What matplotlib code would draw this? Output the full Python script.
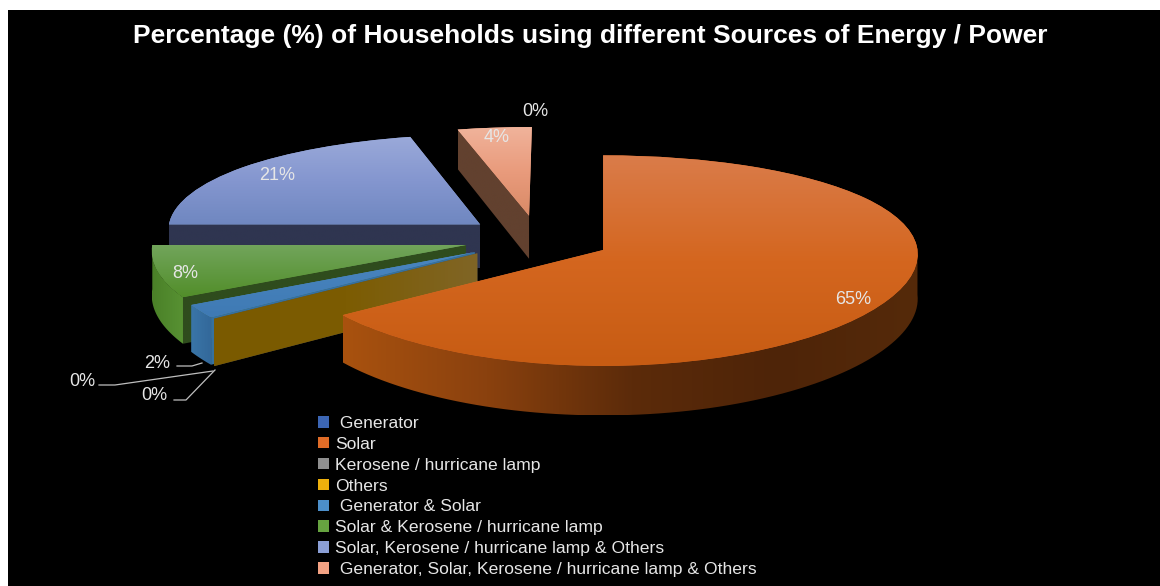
import numpy as np
import matplotlib
matplotlib.use('Agg')
import matplotlib.pyplot as plt
from matplotlib.colors import LinearSegmentedColormap
from matplotlib.patches import Polygon
from matplotlib.transforms import Transform

categories = [' Generator', 'Solar', 'Kerosene / hurricane lamp', 'Others', ' Generator & Solar',
              'Solar & Kerosene / hurricane lamp', 'Solar, Kerosene / hurricane lamp & Others',
              ' Generator, Solar, Kerosene / hurricane lamp & Others']
percent = [0, 65, 0, 0, 2, 8, 21, 4]
legend_colors = ['#3c66b4', '#e06c27', '#8f8f8f', '#eeb00c', '#4c8fca', '#66a340', '#8b9fd6', '#f3a283']

# shading: top face stops (far to near), radial face stops, arc face stops (left to right)
top_stops = [['#3c66b4'] * 2, ['#da7c4a', '#d4661f', '#c75c13'], ['#8f8f8f'] * 2, ['#eeb00c'] * 2,
             ['#4a86c0', '#3f7ab4'], ['#72a55c', '#528e2a'], ['#9aa9d9', '#8496cf', '#6f87c0'],
             ['#f0b39b', '#e99b7c', '#d98a66']]
side_stops = [['#1e3360'] * 2, ['#5a2c0c'] * 2, ['#4c4c4c'] * 2, ['#7a5a00', '#7c5c02', '#806526'],
              ['#36719f'] * 2, ['#2f4c1d'] * 2, ['#2f3550'] * 2, ['#62412f'] * 2]
arc_stops = [['#1e3360'] * 2, ['#a9520f', '#8a410e', '#5c2b0a', '#4e2408', '#552a0a'], ['#4c4c4c'] * 2,
             ['#7a5a00'] * 2, ['#3a76a8', '#33689a'], ['#4a8028', '#589233'], ['#2f3550'] * 2, ['#62412f'] * 2]
draw_order = [7, 6, 5, 4, 2, 3, 0, 1]

# label text position per slice, in pixels
label_pos = [(535, 112), (853, 300), (82, 381), (154, 396), (157, 363), (185, 273), (277, 175), (497, 137)]
leaders = [([177, 192, 202], [366, 366, 363]),
           ([99, 115, 213], [385, 385, 371]),
           ([174, 186, 215], [400, 400, 370])]

CY, A, B, K, KX, DEPTH = 239, 313, 102, 0.1, 0.04, 44
CX, X_SHIFT = 603, 0.209
EXPLODE = 0.235


class Tilt(Transform):
    input_dims = output_dims = 2

    def __init__(self, z=0):
        super().__init__()
        self.z = z

    def transform_non_affine(self, xy):
        xy = np.asarray(xy, dtype=float)
        s = 1 / (1 + K * xy[:, 1])
        sx = 1 / (1 + KX * xy[:, 1])
        return np.column_stack([CX + A * (xy[:, 0] - X_SHIFT) * sx, CY - B * xy[:, 1] * s + DEPTH * self.z * s])


def fill_grad(outline, stops, clip, z, horizontal=False):
    # gradient image cut out by the shape
    x0, y0 = outline.min(axis=0)
    x1, y1 = outline.max(axis=0)
    g = np.linspace(0, 1, 256)
    g = g.reshape(1, -1) if horizontal else g.reshape(-1, 1)
    cmap = LinearSegmentedColormap.from_list('s', stops)
    im = ax.imshow(g, extent=(x0, x1, y1, y0), cmap=cmap, vmin=0, vmax=1, aspect='auto',
                   interpolation='bilinear', zorder=z)
    im.set_clip_path(clip)


def rim(c, t):
    return np.column_stack([c[0] + np.cos(t), c[1] + np.sin(t)])


def side_face(edge, stops, z):
    pts = np.vstack([flat.transform(edge), low.transform(edge)[::-1]])
    face = Polygon(pts, closed=True, transform=ax.transData, fc='none', ec='none')
    ax.add_patch(face)
    fill_grad(pts, stops, face, z, horizontal=True)


plt.rcParams['font.family'] = ['Liberation Sans', 'DejaVu Sans']
fig = plt.figure(figsize=(11.6, 5.86), dpi=100, facecolor='white')
ax = fig.add_axes([8 / 1160, 0, 1152 / 1160, 576 / 586], facecolor='black')

wedges, _ = ax.pie(percent, startangle=90, counterclock=False, explode=[EXPLODE] * len(percent),
                   colors=legend_colors, frame=True, wedgeprops={'linewidth': 0})
ax.set_aspect('auto')

flat = Tilt(0)
low = Tilt(1)
z = 2
for i in draw_order:
    w = wedges[i]
    t1 = w.theta1 % 360
    t2 = t1 + (w.theta2 - w.theta1)
    c = np.array(w.center)

    # radial face at the end that looks toward the viewer
    if np.sin(np.radians(t2 + 90)) < -0.01:
        edge = np.vstack([c, rim(c, np.radians([t2]))])
        side_face(edge, side_stops[i], z)
        z += 1

    # outer face, front half only
    lo, hi = max(t1, 180), min(t2, 360)
    if hi > lo:
        side_face(rim(c, np.radians(np.linspace(lo, hi, 80))), arc_stops[i], z)
        z += 1

    # top face
    w.set_transform(flat + ax.transData)
    w.set_zorder(z)
    if t2 > t1:
        sweep = np.radians(np.linspace(t1, t2, 120))
        pts = flat.transform(np.vstack([c, rim(c, sweep)]))
        fill_grad(pts, top_stops[i], w, z + 0.5)
    z += 1

for v, (x, y) in zip(percent, label_pos):
    ax.text(x, y, f'{v}%', color='#e6e6e6', fontsize=13, ha='center', va='center', zorder=z)
for xs, ys in leaders:
    ax.plot(xs, ys, color='#bfbfbf', lw=0.9, zorder=z, scalex=False, scaley=False)

ax.text(590, 36, 'Percentage (%) of Households using different Sources of Energy / Power',
        color='white', fontsize=19, fontweight='bold', ha='center', va='center', zorder=z)

leg = ax.legend(wedges, categories, loc='upper left', bbox_to_anchor=(318, 416), bbox_transform=ax.transData,
                frameon=False, fontsize=12.6, labelcolor='#e6e6e6', handlelength=0.63, handleheight=0.63,
                handletextpad=0.34, labelspacing=0.335, borderaxespad=0, borderpad=0)
leg.set_zorder(z)

ax.set_xlim(8, 1160)
ax.set_ylim(586, 10)
ax.set_xticks([])
ax.set_yticks([])
for s in ax.spines.values():
    s.set_visible(False)

fig.savefig('out.png', dpi=100, facecolor='white')
